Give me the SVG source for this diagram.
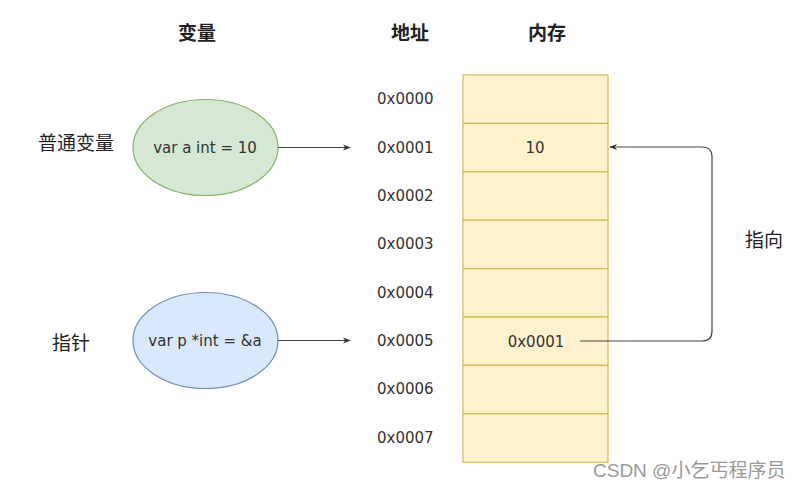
<svg xmlns="http://www.w3.org/2000/svg" width="803" height="491" viewBox="0 0 803 491">
<defs>
<style>
.t{font-family:"Liberation Sans","Noto Sans CJK SC",sans-serif;fill:#222}
.h{font-size:19px;font-weight:bold;text-anchor:middle}
.cj{font-size:19px}
.a{font-family:"DejaVu Sans","Noto Sans CJK SC",sans-serif;font-size:15px;fill:#333}
.cell{fill:#fff2cc;stroke:#d6b656;stroke-width:1.2}
.con{fill:none;stroke:#444;stroke-width:1.2}
</style>
<marker id="ar" viewBox="0 0 10 10" refX="9" refY="5" markerWidth="8" markerHeight="8" markerUnits="userSpaceOnUse" orient="auto">
<path d="M0,1 L10,5 L0,9 L3,5 Z" fill="#333"/>
</marker>
</defs>
<rect width="803" height="491" fill="#fff"/>
<g id="headers">
<text class="t h" x="197" y="40">变量</text>
<text class="t h" x="410" y="40">地址</text>
<text class="t h" x="547" y="40">内存</text>
</g>
<g id="label-normal"><text class="t cj" x="38" y="150">普通变量</text></g>
<g id="label-pointer"><text class="t cj" x="52" y="350">指针</text></g>
<g id="var-a">
<ellipse cx="205.5" cy="147.5" rx="72.5" ry="48" fill="#d5e8d4" stroke="#82b366" stroke-width="1.2"/>
<text class="t a" x="205" y="153" text-anchor="middle">var a int = 10</text>
</g>
<g id="var-p">
<ellipse cx="205.5" cy="340.5" rx="72.5" ry="48" fill="#dae8fc" stroke="#6c8ebf" stroke-width="1.2"/>
<text class="t a" x="205" y="346" text-anchor="middle">var p *int = &amp;a</text>
</g>
<g id="memory">
<rect class="cell" x="463" y="75" width="145" height="48.4"/>
<rect class="cell" x="463" y="123.4" width="145" height="48.4"/>
<rect class="cell" x="463" y="171.8" width="145" height="48.4"/>
<rect class="cell" x="463" y="220.2" width="145" height="48.4"/>
<rect class="cell" x="463" y="268.6" width="145" height="48.4"/>
<rect class="cell" x="463" y="317" width="145" height="48.4"/>
<rect class="cell" x="463" y="365.4" width="145" height="48.4"/>
<rect class="cell" x="463" y="413.8" width="145" height="48.4"/>
<text class="t a" x="535" y="153" text-anchor="middle">10</text>
<text class="t a" x="536" y="347" text-anchor="middle">0x0001</text>
</g>
<g id="addresses">
<text class="t a" x="377" y="104">0x0000</text>
<text class="t a" x="377" y="153">0x0001</text>
<text class="t a" x="377" y="201">0x0002</text>
<text class="t a" x="377" y="249">0x0003</text>
<text class="t a" x="377" y="298">0x0004</text>
<text class="t a" x="377" y="346">0x0005</text>
<text class="t a" x="377" y="394">0x0006</text>
<text class="t a" x="377" y="443">0x0007</text>
</g>
<g id="connectors">
<line class="con" x1="278" y1="147.5" x2="350" y2="147.5" marker-end="url(#ar)"/>
<line class="con" x1="278" y1="340.5" x2="350" y2="340.5" marker-end="url(#ar)"/>
<path class="con" d="M580,341 H702 Q712,341 712,331 V157 Q712,147 702,147 H610" marker-end="url(#ar)"/>
</g>
<g id="label-points"><text class="t cj" x="745" y="247">指向</text></g>
<g id="watermark"><text x="593" y="477" font-family="Liberation Sans,Noto Sans CJK SC,sans-serif" font-size="19" fill="#999">CSDN @小乞丐程序员</text></g>
</svg>
